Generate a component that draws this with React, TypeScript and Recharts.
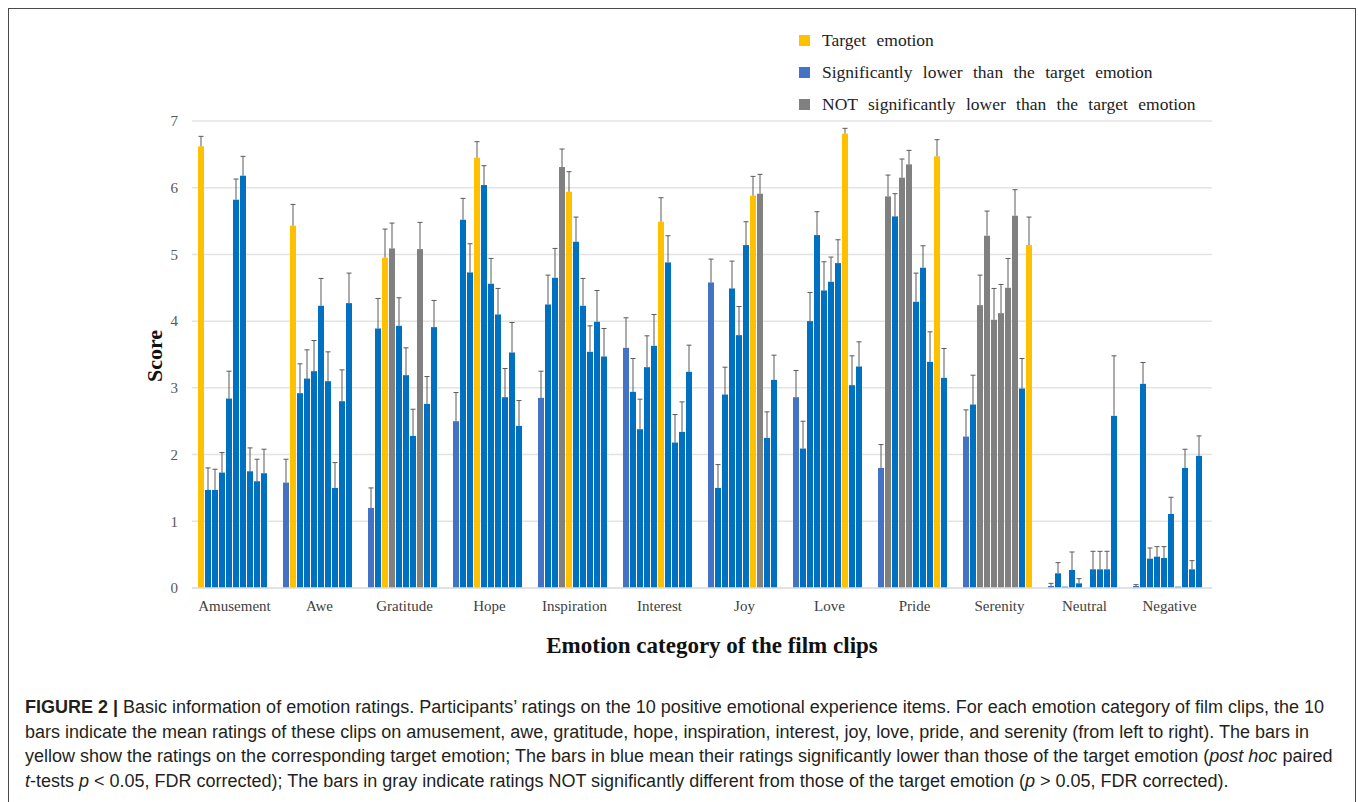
import React from 'react';
import { BarChart, Bar, XAxis, YAxis, CartesianGrid, Cell } from 'recharts';

const categories = ['Amusement', 'Awe', 'Gratitude', 'Hope', 'Inspiration', 'Interest', 'Joy', 'Love', 'Pride', 'Serenity', 'Neutral', 'Negative'];
const items = ['amusement', 'awe', 'gratitude', 'hope', 'inspiration', 'interest', 'joy', 'love', 'pride', 'serenity'];

// mean rating on each of the 10 items, per film clip category
const amusementClips = [6.62, 1.47, 1.47, 1.73, 2.84, 5.82, 6.18, 1.75, 1.6, 1.72];
const aweClips = [1.58, 5.43, 2.92, 3.14, 3.25, 4.23, 3.1, 1.5, 2.8, 4.27];
const gratitudeClips = [1.2, 3.89, 4.95, 5.09, 3.93, 3.19, 2.28, 5.08, 2.76, 3.91];
const hopeClips = [2.5, 5.52, 4.73, 6.45, 6.04, 4.56, 4.1, 2.86, 3.53, 2.43];
const inspirationClips = [2.85, 4.25, 4.65, 6.31, 5.94, 5.19, 4.23, 3.54, 3.99, 3.47];
const interestClips = [3.6, 2.94, 2.38, 3.31, 3.63, 5.49, 4.88, 2.18, 2.34, 3.24];
const joyClips = [4.58, 1.5, 2.9, 4.49, 3.79, 5.14, 5.88, 5.91, 2.25, 3.12];
const loveClips = [2.86, 2.09, 4.0, 5.29, 4.46, 4.59, 4.87, 6.81, 3.04, 3.32];
const prideClips = [1.8, 5.87, 5.57, 6.15, 6.35, 4.29, 4.8, 3.39, 6.47, 3.15];
const serenityClips = [2.27, 2.75, 4.24, 5.28, 4.02, 4.12, 4.5, 5.58, 2.99, 5.14];
const neutralClips = [0.03, 0.22, 0.02, 0.27, 0.07, 0, 0.28, 0.28, 0.28, 2.58];
const negativeClips = [0.03, 3.06, 0.44, 0.47, 0.45, 1.11, 0.02, 1.8, 0.28, 1.98];

// error bar lengths (upper side only)
const amusementErr = [0.15, 0.33, 0.31, 0.3, 0.41, 0.31, 0.29, 0.35, 0.33, 0.36];
const aweErr = [0.35, 0.32, 0.44, 0.43, 0.46, 0.41, 0.44, 0.38, 0.47, 0.45];
const gratitudeErr = [0.3, 0.45, 0.43, 0.38, 0.42, 0.41, 0.4, 0.4, 0.41, 0.4];
const hopeErr = [0.43, 0.32, 0.43, 0.24, 0.29, 0.38, 0.39, 0.43, 0.45, 0.38];
const inspirationErr = [0.4, 0.44, 0.44, 0.27, 0.3, 0.37, 0.41, 0.39, 0.47, 0.42];
const interestErr = [0.45, 0.5, 0.45, 0.47, 0.47, 0.36, 0.4, 0.42, 0.45, 0.4];
const joyErr = [0.35, 0.35, 0.41, 0.41, 0.43, 0.35, 0.29, 0.29, 0.39, 0.37];
const loveErr = [0.4, 0.41, 0.43, 0.35, 0.43, 0.37, 0.35, 0.08, 0.44, 0.37];
const prideErr = [0.35, 0.32, 0.34, 0.28, 0.21, 0.43, 0.33, 0.45, 0.25, 0.44];
const serenityErr = [0.4, 0.44, 0.45, 0.37, 0.47, 0.43, 0.44, 0.39, 0.45, 0.42];
const neutralErr = [0.04, 0.16, 0, 0.27, 0.07, 0, 0.27, 0.27, 0.27, 0.9];
const negativeErr = [0.02, 0.32, 0.16, 0.15, 0.17, 0.25, 0, 0.28, 0.13, 0.3];

// items NOT significantly lower than the target emotion
const notLower: Record<string, string[]> = {
  Gratitude: ['hope', 'love'],
  Inspiration: ['hope'],
  Joy: ['love'],
  Pride: ['awe', 'hope', 'inspiration'],
  Serenity: ['gratitude', 'hope', 'inspiration', 'interest', 'joy', 'love'],
};

const yTicks = [0, 1, 2, 3, 4, 5, 6, 7];
const Y_MAX = 7;

const YELLOW = '#FFC000';
const BLUE = '#0070C0';
const BLUE_FIRST = '#4472C4';
const GRAY = '#808080';
const SERIF = '"Liberation Serif", "Times New Roman", serif';

const means = [amusementClips, aweClips, gratitudeClips, hopeClips, inspirationClips, interestClips, joyClips, loveClips, prideClips, serenityClips, neutralClips, negativeClips];
const errs = [amusementErr, aweErr, gratitudeErr, hopeErr, inspirationErr, interestErr, joyErr, loveErr, prideErr, serenityErr, neutralErr, negativeErr];

const data = categories.map((name, c) => {
  const row: any = { name };
  items.forEach((item, i) => {
    row[item] = means[c][i];
    row[item + 'Err'] = errs[c][i];
  });
  return row;
});

const barColor = (c: number, i: number) => {
  if (c === i) return YELLOW;
  if ((notLower[categories[c]] || []).includes(items[i])) return GRAY;
  return i === 0 ? BLUE_FIRST : BLUE;
};

// bar plus an upper whisker, scaled with the plot's own height
const barWithWhisker = (item: string) => (props: any) => {
  const { x, y, width, height, fill, payload, background } = props;
  const mean = payload[item];
  const err = payload[item + 'Err'];
  const perUnit = background && background.height ? background.height / Y_MAX : mean > 0 ? height / mean : 0;
  const cx = x + width / 2;
  const top = y - err * perUnit;
  return (
    <g>
      <rect x={x} y={y} width={width} height={Math.max(height, 0)} fill={fill} />
      {err > 0 && (
        <g stroke="#5a5a5a" strokeWidth={1}>
          <line x1={cx} x2={cx} y1={y} y2={top} />
          <line x1={cx - 2.5} x2={cx + 2.5} y1={top} y2={top} />
        </g>
      )}
    </g>
  );
};

const legendItems = [
  { label: 'Target emotion', color: YELLOW },
  { label: 'Significantly lower than the target emotion', color: BLUE_FIRST },
  { label: 'NOT significantly lower than the target emotion', color: GRAY },
];

export default function App() {
  return (
    <div style={{ position: 'relative', width: 1358, height: 802, overflow: 'hidden', background: '#fff' }}>
      <style>{'body{margin:0;overflow:hidden}'}</style>
      <div style={{ position: 'absolute', left: 8, top: 8, width: 1348, height: 820, border: '1.5px solid #4a4a4a', boxSizing: 'border-box' }} />

      <div style={{ position: 'absolute', left: 0, top: 0 }}>
        <BarChart
          width={1358}
          height={700}
          data={data}
          margin={{ top: 121, right: 146, bottom: 82, left: 152 }}
          barCategoryGap={6}
          barGap={1}
        >
          <CartesianGrid vertical={false} stroke="#e3e3e3" strokeWidth={1.5} />
          <XAxis
            dataKey="name"
            height={30}
            tickLine={false}
            axisLine={{ stroke: '#dcdfe3', strokeWidth: 1.5 }}
            tick={{ fill: '#404040', fontSize: 15, fontFamily: SERIF }}
            tickMargin={6}
            interval={0}
          />
          <YAxis
            width={40}
            domain={[0, Y_MAX]}
            ticks={yTicks}
            axisLine={false}
            tickLine={false}
            tickMargin={8}
            tick={{ fill: '#595959', fontSize: 15, fontFamily: SERIF }}
          />
          {items.map((item, i) => (
            <Bar key={item} dataKey={item} isAnimationActive={false} shape={barWithWhisker(item)}>
              {data.map((row, c) => (
                <Cell key={row.name} fill={barColor(c, i)} />
              ))}
            </Bar>
          ))}
        </BarChart>
      </div>

      <div
        style={{
          position: 'absolute', left: 155, top: 356, transform: 'translate(-50%, -50%) rotate(-90deg)',
          fontFamily: SERIF, fontWeight: 'bold', fontSize: 22, color: '#111', whiteSpace: 'nowrap',
        }}
      >
        Score
      </div>
      <div
        style={{
          position: 'absolute', left: 712, top: 646, transform: 'translate(-50%, -50%)',
          fontFamily: SERIF, fontWeight: 'bold', fontSize: 23, color: '#111', whiteSpace: 'nowrap',
        }}
      >
        Emotion category of the film clips
      </div>

      <div style={{ position: 'absolute', left: 799, top: 24, fontFamily: SERIF, fontSize: 17.5, color: '#222' }}>
        {legendItems.map((it) => (
          <div key={it.label} style={{ display: 'flex', alignItems: 'center', height: 32, whiteSpace: 'nowrap', wordSpacing: 6 }}>
            <span style={{ display: 'inline-block', width: 11, height: 11, background: it.color, marginRight: 12 }} />
            {it.label}
          </div>
        ))}
      </div>

      <div
        style={{
          position: 'absolute', left: 25, top: 695, fontFamily: '"Liberation Sans", Arial, sans-serif',
          fontSize: 18, lineHeight: '24.5px', color: '#231f20', whiteSpace: 'nowrap',
        }}
      >
        <div><b>FIGURE 2 |</b> Basic information of emotion ratings. Participants’ ratings on the 10 positive emotional experience items. For each emotion category of film clips, the 10</div>
        <div>bars indicate the mean ratings of these clips on amusement, awe, gratitude, hope, inspiration, interest, joy, love, pride, and serenity (from left to right). The bars in</div>
        <div>yellow show the ratings on the corresponding target emotion; The bars in blue mean their ratings significantly lower than those of the target emotion (<i>post hoc</i> paired</div>
        <div><i>t</i>-tests <i>p</i> &lt; 0.05, FDR corrected); The bars in gray indicate ratings NOT significantly different from those of the target emotion (<i>p</i> &gt; 0.05, FDR corrected).</div>
      </div>
    </div>
  );
}
